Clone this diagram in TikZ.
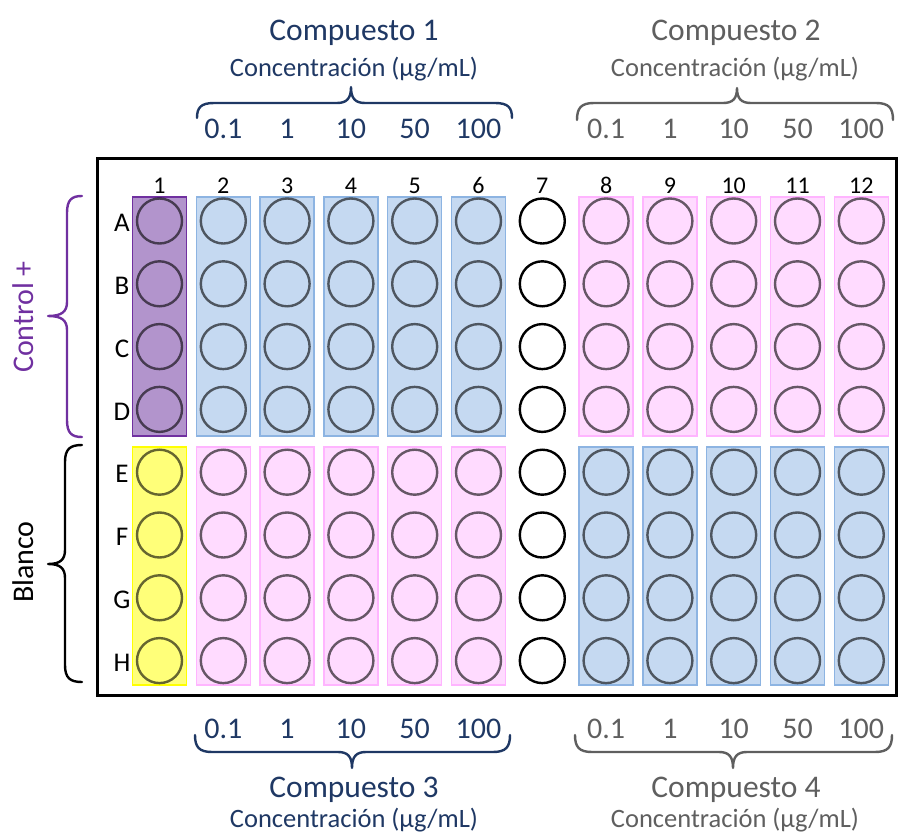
\documentclass[tikz,border=0pt]{standalone}
\usepackage{fontspec}
\setmainfont{Carlito}
\definecolor{navy}{HTML}{1F3864}
\definecolor{grayt}{HTML}{5F5F5F}
\definecolor{purp}{HTML}{7030A0}
\definecolor{purpfill}{HTML}{B294CC}
\definecolor{bluefill}{HTML}{C5D9F1}
\definecolor{blueline}{HTML}{8DB4E2}
\definecolor{pinkfill}{HTML}{FFDBFF}
\definecolor{pinkline}{HTML}{FFB5FF}
\definecolor{yelfill}{HTML}{FFFF79}
\definecolor{yelline}{HTML}{FFFF00}
\newcommand{\fsz}[1]{\fontsize{#1}{#1}\selectfont}
% horizontal brace: colour, x1, x2, xm, yEnd, yLine, yTip
\newcommand{\hbrace}[7]{%
  \draw[bracebase, #1] (#2,#5) .. controls (#2,{0.3*#5+0.7*#6}) and ({#2+4},#6) .. ({#2+17},#6)
    -- ({#4-14},#6) .. controls ({#4-4},#6) and (#4,{0.7*#6+0.3*#7}) .. (#4,#7)
    .. controls (#4,{0.7*#6+0.3*#7}) and ({#4+4},#6) .. ({#4+14},#6)
    -- ({#3-17},#6) .. controls ({#3-4},#6) and (#3,{0.3*#5+0.7*#6}) .. (#3,#5);}
% vertical brace: colour, y1, y2, ym, xEnd, xLine, xTip
\newcommand{\vbrace}[7]{%
  \draw[bracebase, #1] (#5,#2) .. controls ({0.3*#5+0.7*#6},#2) and (#6,{#2+4}) .. (#6,{#2+17})
    -- (#6,{#4-14}) .. controls (#6,{#4-4}) and ({0.7*#6+0.3*#7},#4) .. (#7,#4)
    .. controls ({0.7*#6+0.3*#7},#4) and (#6,{#4+4}) .. (#6,{#4+14})
    -- (#6,{#3-17}) .. controls (#6,{#3-4}) and ({0.3*#5+0.7*#6},#3) .. (#5,#3);}
\begin{document}
\begin{tikzpicture}[x=1pt,y=-1pt,
  strip/.style={rectangle, inner sep=0pt, minimum width=54pt, line width=1.5pt},
  topstrip/.style={strip, minimum height=239pt},
  botstrip/.style={strip, minimum height=238pt},
  purpS/.style={topstrip, fill=purpfill, draw=purp},
  yelS/.style={botstrip, fill=yelfill, draw=yelline},
  blueT/.style={topstrip, fill=bluefill, draw=blueline},
  blueB/.style={botstrip, fill=bluefill, draw=blueline},
  pinkT/.style={topstrip, fill=pinkfill, draw=pinkline},
  pinkB/.style={botstrip, fill=pinkfill, draw=pinkline},
  well/.style={circle, inner sep=0pt, minimum size=45pt, draw=black, draw opacity=0.6, line width=2.4pt},
  emptywell/.style={circle, inner sep=0pt, minimum size=45pt, draw=black, line width=2.4pt},
  collabel/.style={font=\fsz{24}, inner sep=0pt},
  rowlabel/.style={font=\fsz{27}, inner sep=0pt},
  conc/.style={font=\fsz{30}, inner sep=0pt, anchor=base},
  title/.style={font=\fsz{31.5}, inner sep=0pt, anchor=base},
  subtitle/.style={font=\fsz{26.5}, inner sep=0pt, anchor=base},
  sidelabel/.style={font=\fsz{30}, inner sep=0pt, anchor=base, rotate=90},
  bracebase/.style={line width=2.4pt, line cap=round, line join=round},
]
\useasboundingbox (0,0) rectangle (898,835);

\def\colx#1{159.5+63.8*(#1-1)}
% strips
\node[purpS] (s1t) at ({\colx{1}},316.5) {};
\node[yelS] (s1b) at ({\colx{1}},566) {};
\foreach \c in {2,...,6} {
  \node[blueT] (s\c t) at ({\colx{\c}},316.5) {};
  \node[pinkB] (s\c b) at ({\colx{\c}},566) {};
}
\foreach \c in {8,...,12} {
  \node[pinkT] (s\c t) at ({\colx{\c}},316.5) {};
  \node[blueB] (s\c b) at ({\colx{\c}},566) {};
}
% wells
\foreach \c in {1,2,3,4,5,6,8,9,10,11,12} {
  \foreach \r [count=\j] in {A,B,C,D,E,F,G,H} {
    \node[well] (w\r\c) at ({\colx{\c}},{221+62.8*(\j-1)}) {};
  }
}
\foreach \r [count=\j] in {A,B,C,D,E,F,G,H} {
  \node[emptywell] (w\r7) at ({\colx{7}},{221+62.8*(\j-1)}) {};
  \node[rowlabel] (row\r) at (122,{223+62.8*(\j-1)}) {\r};
}
\foreach \c in {1,...,12} {
  \node[collabel] (col\c) at ({\colx{\c}},185.5) {\c};
}
% plate border
\draw[line width=3pt] (97,158) rectangle (896.5,695);

% concentration labels
\foreach \v [count=\k] in {0.1,1,10,50,100} {
  \pgfmathsetmacro{\ca}{\colx{(\k+1)}}
  \pgfmathsetmacro{\cb}{\colx{(\k+7)}}
  \node[conc, text=navy] (ta\k) at (\ca,138) {\v};
  \node[conc, text=grayt] (tb\k) at (\cb,138) {\v};
  \node[conc, text=navy] (ba\k) at (\ca,738) {\v};
  \node[conc, text=grayt] (bb\k) at (\cb,738) {\v};
}

% titles
\node[title, text=navy] (t1) at (354,41) {Compuesto 1};
\node[subtitle, text=navy] (c1) at (354,76) {Concentración (µg/mL)};
\node[title, text=grayt] (t2) at (736,41) {Compuesto 2};
\node[subtitle, text=grayt] (c2) at (735,76) {Concentración (µg/mL)};
\node[title, text=navy] (t3) at (354,797) {Compuesto 3};
\node[subtitle, text=navy] (c3) at (354,827) {Concentración (µg/mL)};
\node[title, text=grayt] (t4) at (736,797) {Compuesto 4};
\node[subtitle, text=grayt] (c4) at (735,827) {Concentración (µg/mL)};

% braces
\hbrace{navy}{197}{512}{351}{118}{103}{87}
\hbrace{grayt}{577}{893}{737}{120}{103}{88}
\hbrace{navy}{195}{510}{352}{735}{752}{768}
\hbrace{grayt}{575}{892}{733}{735}{752}{768}
\vbrace{purp}{196}{437}{316}{82}{67}{48}
\vbrace{black}{445}{682}{564}{82}{65}{48}

\node[sidelabel, text=purp] (ctrl) at (33,317) {Control +};
\node[sidelabel, text=black] (blanco) at (33,562) {Blanco};
\end{tikzpicture}
\end{document}
